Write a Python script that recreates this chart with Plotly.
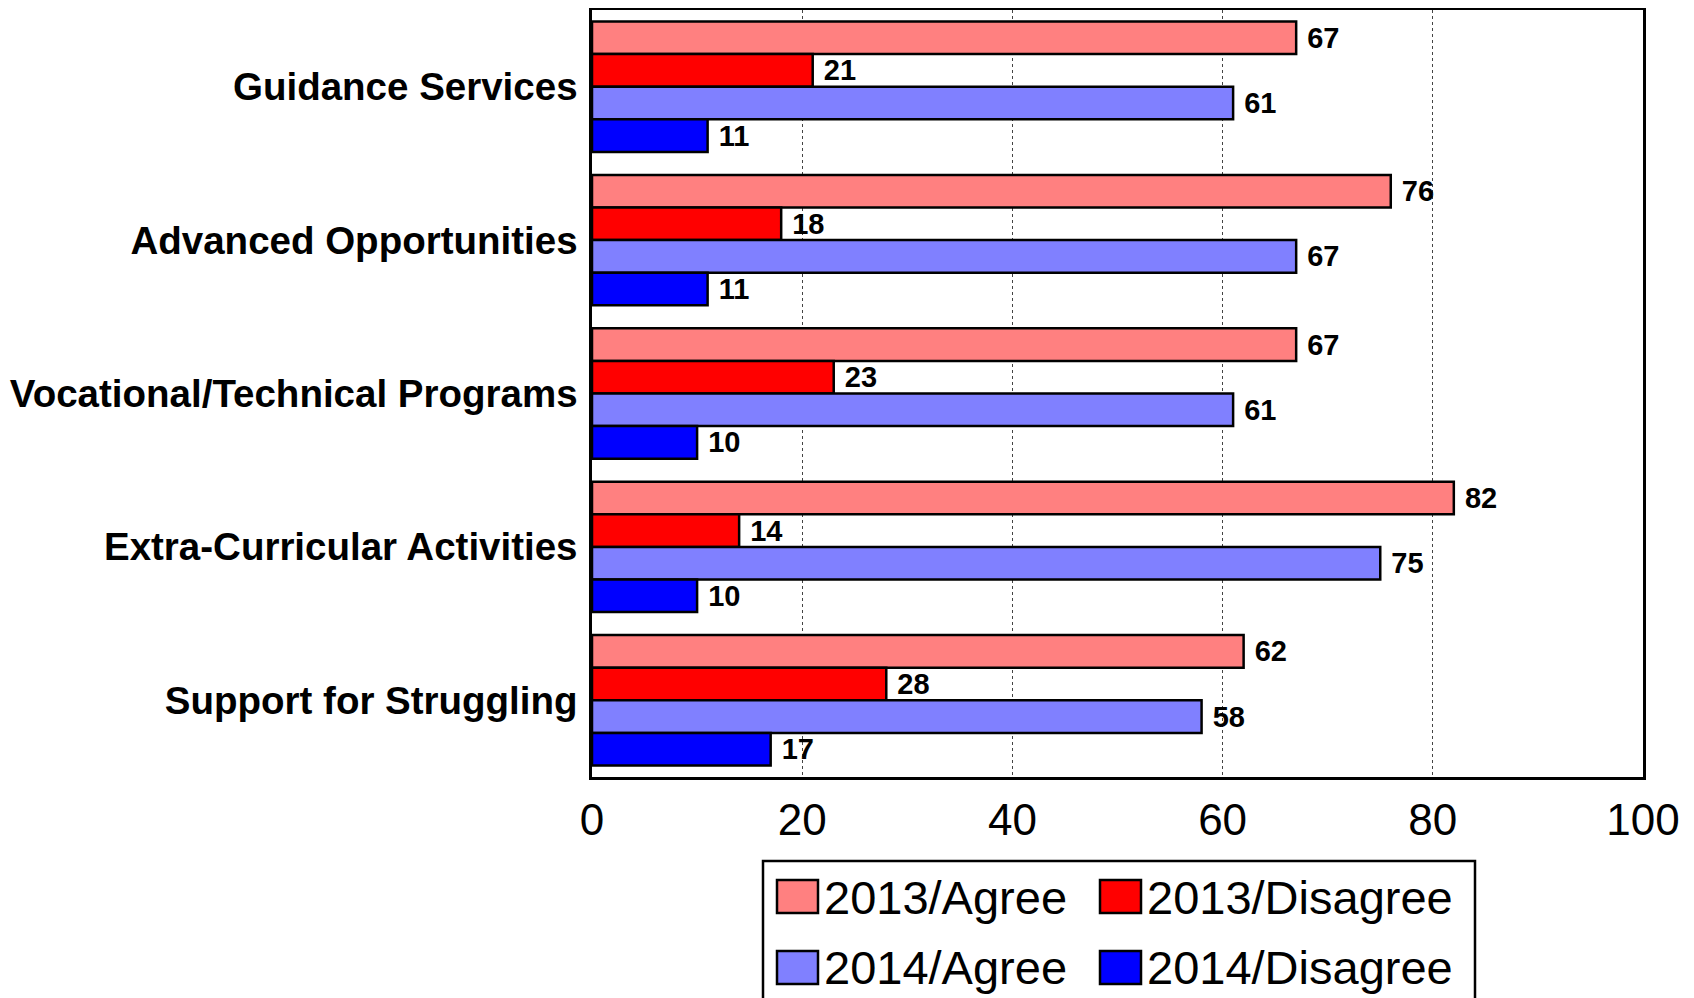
import plotly.graph_objects as go

categories = ["Guidance Services", "Advanced Opportunities", "Vocational/Technical Programs",
              "Extra-Curricular Activities", "Support for Struggling"]
series_names = ["2013/Agree", "2013/Disagree", "2014/Agree", "2014/Disagree"]
agree_2013 = [67, 76, 67, 82, 62]
disagree_2013 = [21, 18, 23, 14, 28]
agree_2014 = [61, 67, 61, 75, 58]
disagree_2014 = [11, 11, 10, 10, 17]
x_ticks = [0, 20, 40, 60, 80, 100]

series_values = [agree_2013, disagree_2013, agree_2014, disagree_2014]
colors = ["#FF8080", "#FF0000", "#8080FF", "#0000FF"]

# page has an 8px body margin, so the figure is a bit smaller and shifted
OFF = 8
W, H = 1694 - OFF, 998 - OFF
L, R, T, B = 592 - OFF, 1643 - OFF, 2, 777 - OFF
FONT = "Arial, Liberation Sans, sans-serif"


def px(x):
    # page pixel -> paper x
    return (x - OFF - L) / (R - L)


def py(y):
    # page pixel -> paper y
    return (B - (y - OFF)) / (B - T)


fig = go.Figure()
for name, vals, col in zip(series_names, series_values, colors):
    fig.add_trace(go.Bar(
        y=categories, x=vals, name=name, orientation="h",
        marker=dict(color=col, line=dict(color="black", width=2.5)),
        text=vals, texttemplate="\u00a0%{x}", textposition="outside",
        textfont=dict(family=FONT, size=29, color="black", weight="bold"),
        constraintext="none", cliponaxis=False, showlegend=False,
    ))

# hand-built legend box (cut off at bottom like the original)
shapes = [dict(type="rect", xref="paper", yref="paper",
               x0=px(763), x1=px(1475), y0=py(861), y1=py(1020),
               line=dict(color="black", width=2.5), fillcolor="white", layer="above")]
annotations = []
cols_x = [777, 1100]
rows_y = [880, 951]
for i, (name, col) in enumerate(zip(series_names, colors)):
    cx = cols_x[i % 2]
    ry = rows_y[i // 2]
    shapes.append(dict(type="rect", xref="paper", yref="paper",
                       x0=px(cx), x1=px(cx + 41), y0=py(ry), y1=py(ry + 33),
                       line=dict(color="black", width=2.5), fillcolor=col, layer="above"))
    annotations.append(dict(xref="paper", yref="paper", x=px(cx + 45), y=py(ry + 17),
                            xanchor="left", yanchor="middle", showarrow=False, text=name,
                            font=dict(family=FONT, size=47, color="black")))

fig.update_layout(
    width=W, height=H,
    margin=dict(l=L, r=W - R, t=T, b=H - B, autoexpand=False),
    plot_bgcolor="white", paper_bgcolor="white",
    barmode="group", bargap=0.15, bargroupgap=0,
    font=dict(family=FONT, color="black"),
    shapes=shapes, annotations=annotations,
    xaxis=dict(range=[0, 100], tickvals=x_ticks, showgrid=True, gridcolor="#444444",
               griddash="dot", gridwidth=1, showline=True, linecolor="black", linewidth=2.5,
               mirror=True, zeroline=False, ticks="", ticklabelstandoff=2,
               tickfont=dict(family=FONT, size=44, color="black")),
    yaxis=dict(autorange="reversed", showline=True, linecolor="black", linewidth=2.5,
               mirror=True, ticks="", ticklabelstandoff=4,
               tickfont=dict(family=FONT, size=38.5, color="black", weight="bold")),
)

fig.write_html("out.html")
